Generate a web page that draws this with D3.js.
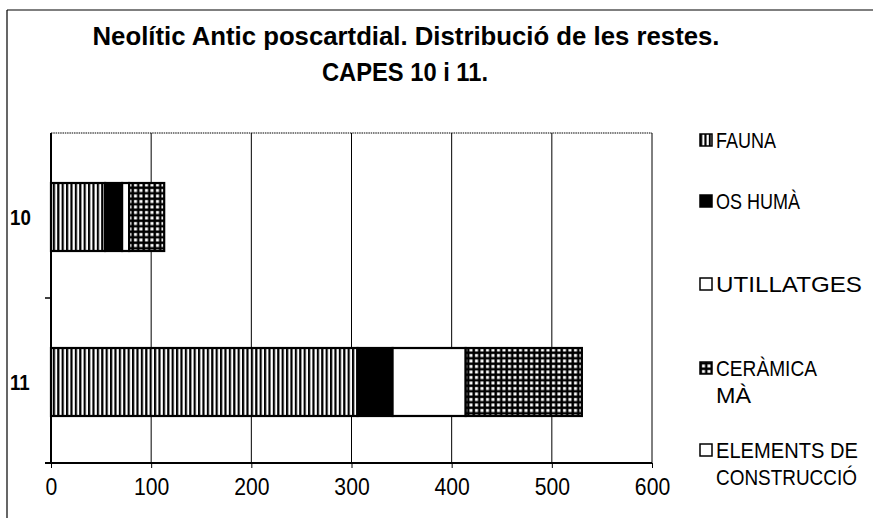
<!DOCTYPE html>
<html>
<head>
<meta charset="utf-8">
<title>Neolític Antic poscartdial</title>
<script src="https://cdn.jsdelivr.net/npm/d3@7"></script>
<style>
  body { margin: 0; background: #fff; }
  svg { font-family: "Liberation Sans", Arial, sans-serif; }
</style>
</head>
<body>
<script>
// data
var categories = ["10", "11"];
var fauna      = [54, 306];
var osHuma     = [17, 35];
var utillatges = [7, 73];
var ceramica   = [35, 116];
var elements   = [0, 0];
var xTicks     = [0, 100, 200, 300, 400, 500, 600];
var legendLines = [["FAUNA"], ["OS HUMÀ"], ["UTILLATGES"], ["CERÀMICA", "MÀ"], ["ELEMENTS DE", "CONSTRUCCIÓ"]];

var keys = ["fauna", "osHuma", "utillatges", "ceramica", "elements"];
var rows = categories.map(function (c, i) {
    return {cat: c, fauna: fauna[i], osHuma: osHuma[i], utillatges: utillatges[i],
            ceramica: ceramica[i], elements: elements[i]};
});

var width = 873, height = 518;
var plot = {left: 51, right: 652, top: 133, bottom: 463};
// rendered widths of the legend lines in the original (its font spacing is uneven)
var legendWidths = [[60], [84], [146], [101, 35], [142, 141]];

function condense(sel, k) {
    sel.each(function () {
        var w = this.getComputedTextLength();
        d3.select(this).attr("textLength", w * k).attr("lengthAdjust", "spacingAndGlyphs");
    });
}

var svg = d3.select("body").append("svg")
    .attr("width", width)
    .attr("height", height);

// patterns
var defs = svg.append("defs");
var pStripe = defs.append("pattern")
    .attr("id", "stripes").attr("patternUnits", "userSpaceOnUse")
    .attr("width", 4.4).attr("height", 10);
pStripe.append("rect").attr("width", 4.4).attr("height", 10).attr("fill", "#fff");
pStripe.append("rect").attr("width", 2.2).attr("height", 10).attr("fill", "#000");

var pGrid = defs.append("pattern")
    .attr("id", "grid").attr("patternUnits", "userSpaceOnUse")
    .attr("width", 5.5).attr("height", 5.5);
pGrid.append("rect").attr("width", 5.5).attr("height", 5.5).attr("fill", "#000");
pGrid.append("rect").attr("x", 2).attr("y", 2).attr("width", 3).attr("height", 3).attr("fill", "#fff");

var fills = {
    fauna: "url(#stripes)",
    osHuma: "#000",
    utillatges: "#fff",
    ceramica: "url(#grid)",
    elements: "#fff"
};

// outer frame (top and left edges visible)
svg.append("line")
    .attr("x1", 7).attr("y1", 10).attr("x2", width).attr("y2", 10)
    .attr("stroke", "#000").attr("stroke-width", 1.2);
svg.append("line")
    .attr("x1", 7).attr("y1", 10).attr("x2", 7).attr("y2", height)
    .attr("stroke", "#000").attr("stroke-width", 1.2);

// title
svg.append("text")
    .attr("x", 406).attr("y", 45)
    .attr("text-anchor", "middle")
    .attr("font-size", 25).attr("font-weight", "bold")
    .attr("textLength", 627).attr("lengthAdjust", "spacingAndGlyphs")
    .text("Neolític Antic poscartdial. Distribució de les restes.");
svg.append("text")
    .attr("x", 405).attr("y", 81)
    .attr("text-anchor", "middle")
    .attr("font-size", 25).attr("font-weight", "bold")
    .attr("textLength", 166).attr("lengthAdjust", "spacingAndGlyphs")
    .text("CAPES 10 i 11.");

var x = d3.scaleLinear().domain([0, 600]).range([plot.left, plot.right]);
var y = d3.scaleBand().domain(categories)
    .range([plot.top + 1.5, plot.bottom + 1.5])
    .paddingInner(0.588).paddingOuter(0.294);

// plot area top border
svg.append("line")
    .attr("x1", plot.left).attr("x2", plot.right)
    .attr("y1", plot.top).attr("y2", plot.top)
    .attr("stroke", "#555").attr("stroke-width", 1.5)
    .attr("stroke-dasharray", "1.5,0.8");

// vertical gridlines
svg.append("g").selectAll("line")
    .data(xTicks.slice(1))
    .enter().append("line")
    .attr("x1", function (d) { return x(d); })
    .attr("x2", function (d) { return x(d); })
    .attr("y1", plot.top).attr("y2", plot.bottom)
    .attr("stroke", "#000").attr("stroke-width", 1);

// stacked bars
var stack = d3.stack().keys(keys);
var series = stack(rows);

svg.append("g").selectAll("g")
    .data(series)
    .enter().append("g")
    .attr("fill", function (d) { return fills[d.key]; })
    .selectAll("rect")
    .data(function (d) { return d; })
    .enter().append("rect")
    .filter(function (d) { return d[1] > d[0]; })
    .attr("x", function (d) { return x(d[0]); })
    .attr("width", function (d) { return x(d[1]) - x(d[0]); })
    .attr("y", function (d) { return y(d.data.cat); })
    .attr("height", y.bandwidth())
    .attr("stroke", "#000").attr("stroke-width", 2.2);

// x axis
var xAxis = d3.axisBottom(x).tickValues(xTicks).tickSize(5).tickPadding(11);
var gx = svg.append("g")
    .attr("transform", "translate(0," + plot.bottom + ")")
    .call(xAxis);
gx.select(".domain").attr("stroke", "#000").attr("stroke-width", 2)
    .attr("d", "M" + (plot.left - 6) + ",0H" + plot.right);
gx.selectAll(".tick line").attr("stroke", "#000");
gx.selectAll(".tick text")
    .attr("font-size", 23).attr("fill", "#000")
    .attr("font-family", "Liberation Sans, Arial, sans-serif")
    .call(condense, 0.92);

// y axis (line + separator tick + labels)
svg.append("line")
    .attr("x1", plot.left).attr("x2", plot.left)
    .attr("y1", plot.top).attr("y2", plot.bottom)
    .attr("stroke", "#000").attr("stroke-width", 2);
var sep = (plot.top + plot.bottom) / 2;
svg.append("line")
    .attr("x1", plot.left - 6).attr("x2", plot.left)
    .attr("y1", sep).attr("y2", sep)
    .attr("stroke", "#000").attr("stroke-width", 1.5);
svg.append("g").selectAll("text")
    .data(categories)
    .enter().append("text")
    .attr("x", 10)
    .attr("y", function (d) { return y(d) + y.bandwidth() / 2 + 8; })
    .attr("font-size", 22).attr("font-weight", "bold")
    .text(function (d) { return d; })
    .call(condense, 0.85);

// legend
var legendY = [140, 201, 284, 368, 450];
var lg = svg.append("g").selectAll("g")
    .data(keys)
    .enter().append("g")
    .attr("transform", function (d, i) { return "translate(700," + legendY[i] + ")"; });
lg.append("rect")
    .attr("x", 0).attr("y", -6).attr("width", 12).attr("height", 12)
    .attr("fill", function (d) { return fills[d]; })
    .attr("stroke", "#000").attr("stroke-width", 1.5);
lg.selectAll("text")
    .data(function (d, i) {
        return legendLines[i].map(function (l, j) { return {text: l, w: legendWidths[i][j], j: j}; });
    })
    .enter().append("text")
    .attr("font-size", 22)
    .text(function (d) { return d.text; })
    .each(function (d) {
        var k = d.w / this.getComputedTextLength();
        d3.select(this).attr("transform",
            "translate(16," + (8 + d.j * 27) + ") scale(" + k + ",1)");
    });
</script>
</body>
</html>
